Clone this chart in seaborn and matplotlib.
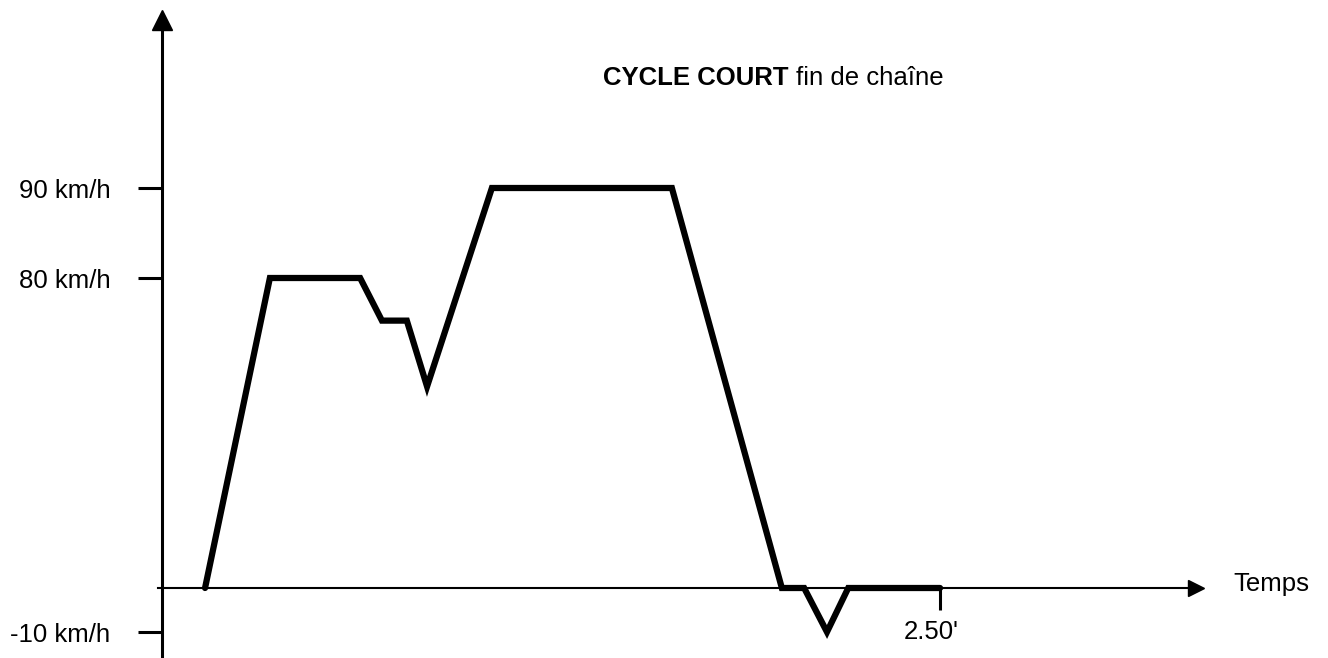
"""
plot.py - schematic speed profile "CYCLE COURT fin de chaîne"
"""
import numpy as np
import matplotlib
matplotlib.use("Agg")
import matplotlib.pyplot as plt
import matplotlib.transforms as mtransforms
import seaborn as sns

# Speed profile (time in seconds, speed in km/h)
time_s = [8.3, 20.8, 38.2, 42.4, 47.2, 51.1, 63.6, 98.3, 119.5, 123.8, 128.2, 132.3, 150.0]
speed_kmh = [0, 80, 80, 69, 69, 52, 90, 90, 0, 0, -10, 0, 0]

ytick_vals = [90, 80, -10]
ytick_labels = ["90 km/h", "80 km/h", "-10 km/h"]
xtick_vals = [150]
xtick_labels = ["2.50'"]

# Layout (pixels of the 1328x658 canvas)
W, H = 1328, 658
X0_PX = 162          # position of the speed axis
PX_PER_S = 5.187     # 2.50' sits at 940 px
Y0_PX = 588          # position of the time axis

# The drawing is schematic: the speed axis is not linear, it is stretched
# piecewise between the labelled levels (height above time axis, in px)
knot_v = np.array([-1000, -10, 0, 80, 90, 1000], dtype=float)
knot_h = np.array([-44 - 990 * 4.4, -44, 0, 310, 400, 400 + 910 * 9], dtype=float)


def fwd(v):
    return np.interp(v, knot_v, knot_h)


def inv(h):
    return np.interp(h, knot_h, knot_v)


def px_to_s(px):
    return (px - X0_PX) / PX_PER_S


sns.set_style("white")
plt.rcParams["font.family"] = ["Liberation Sans", "DejaVu Sans"]
plt.rcParams["text.color"] = "black"
FS = 18.5

fig = plt.figure(figsize=(W / 100, H / 100), dpi=100)
ax = fig.add_axes([0, 0, 1, 1])
ax.set_yscale("function", functions=(fwd, inv))

sns.lineplot(x=time_s, y=speed_kmh, ax=ax, color="black", linewidth=4.5,
             estimator=None, sort=False, solid_joinstyle="miter")

ax.set_xlim(px_to_s(0), px_to_s(W))
ax.set_ylim(inv(Y0_PX - H), inv(Y0_PX))

# axes drawn through the origin, with arrow heads
for side in ["top", "right"]:
    ax.spines[side].set_visible(False)
ax.spines["left"].set_position(("data", 0))
ax.spines["bottom"].set_position(("data", 0))
ax.spines["left"].set_linewidth(2.2)
ax.spines["bottom"].set_linewidth(1.5)
ax.spines["left"].set_color("black")
ax.spines["bottom"].set_color("black")
ax.spines["left"].set_bounds(inv(Y0_PX - H), inv(Y0_PX - 25))
ax.spines["bottom"].set_bounds(px_to_s(158), px_to_s(1190))

ax.plot([0], [inv(Y0_PX - 20)], marker="^", ms=15, color="black", clip_on=False)
ax.plot([px_to_s(1196)], [0], marker=">", ms=12, color="black", clip_on=False)

ax.set_yticks(ytick_vals, ytick_labels)
ax.set_xticks(xtick_vals, xtick_labels)
ax.minorticks_off()
ax.tick_params(axis="y", left=True, direction="out", length=17, width=2.2,
               pad=20, labelsize=FS, colors="black")
ax.tick_params(axis="x", bottom=True, direction="out", length=16, width=2.2,
               pad=7, labelsize=FS, colors="black")
for lbl in ax.get_xticklabels():
    lbl.set_transform(lbl.get_transform()
                      + mtransforms.ScaledTranslation(-0.09, 0, fig.dpi_scale_trans))

# texts
t1 = fig.text(603 / W, 1 - 78 / H, "CYCLE COURT", fontsize=FS, color="black",
              fontweight="bold", ha="left", va="center")
ax.annotate("fin de chaîne", xy=(1, 0), xycoords=t1, xytext=(5.5, 0),
            textcoords="offset points", ha="left", va="bottom", fontsize=FS,
            color="black")
fig.text(1233 / W, 1 - 584 / H, "Temps", fontsize=FS, color="black",
         ha="left", va="center")

fig.savefig("out.png", dpi=100)
